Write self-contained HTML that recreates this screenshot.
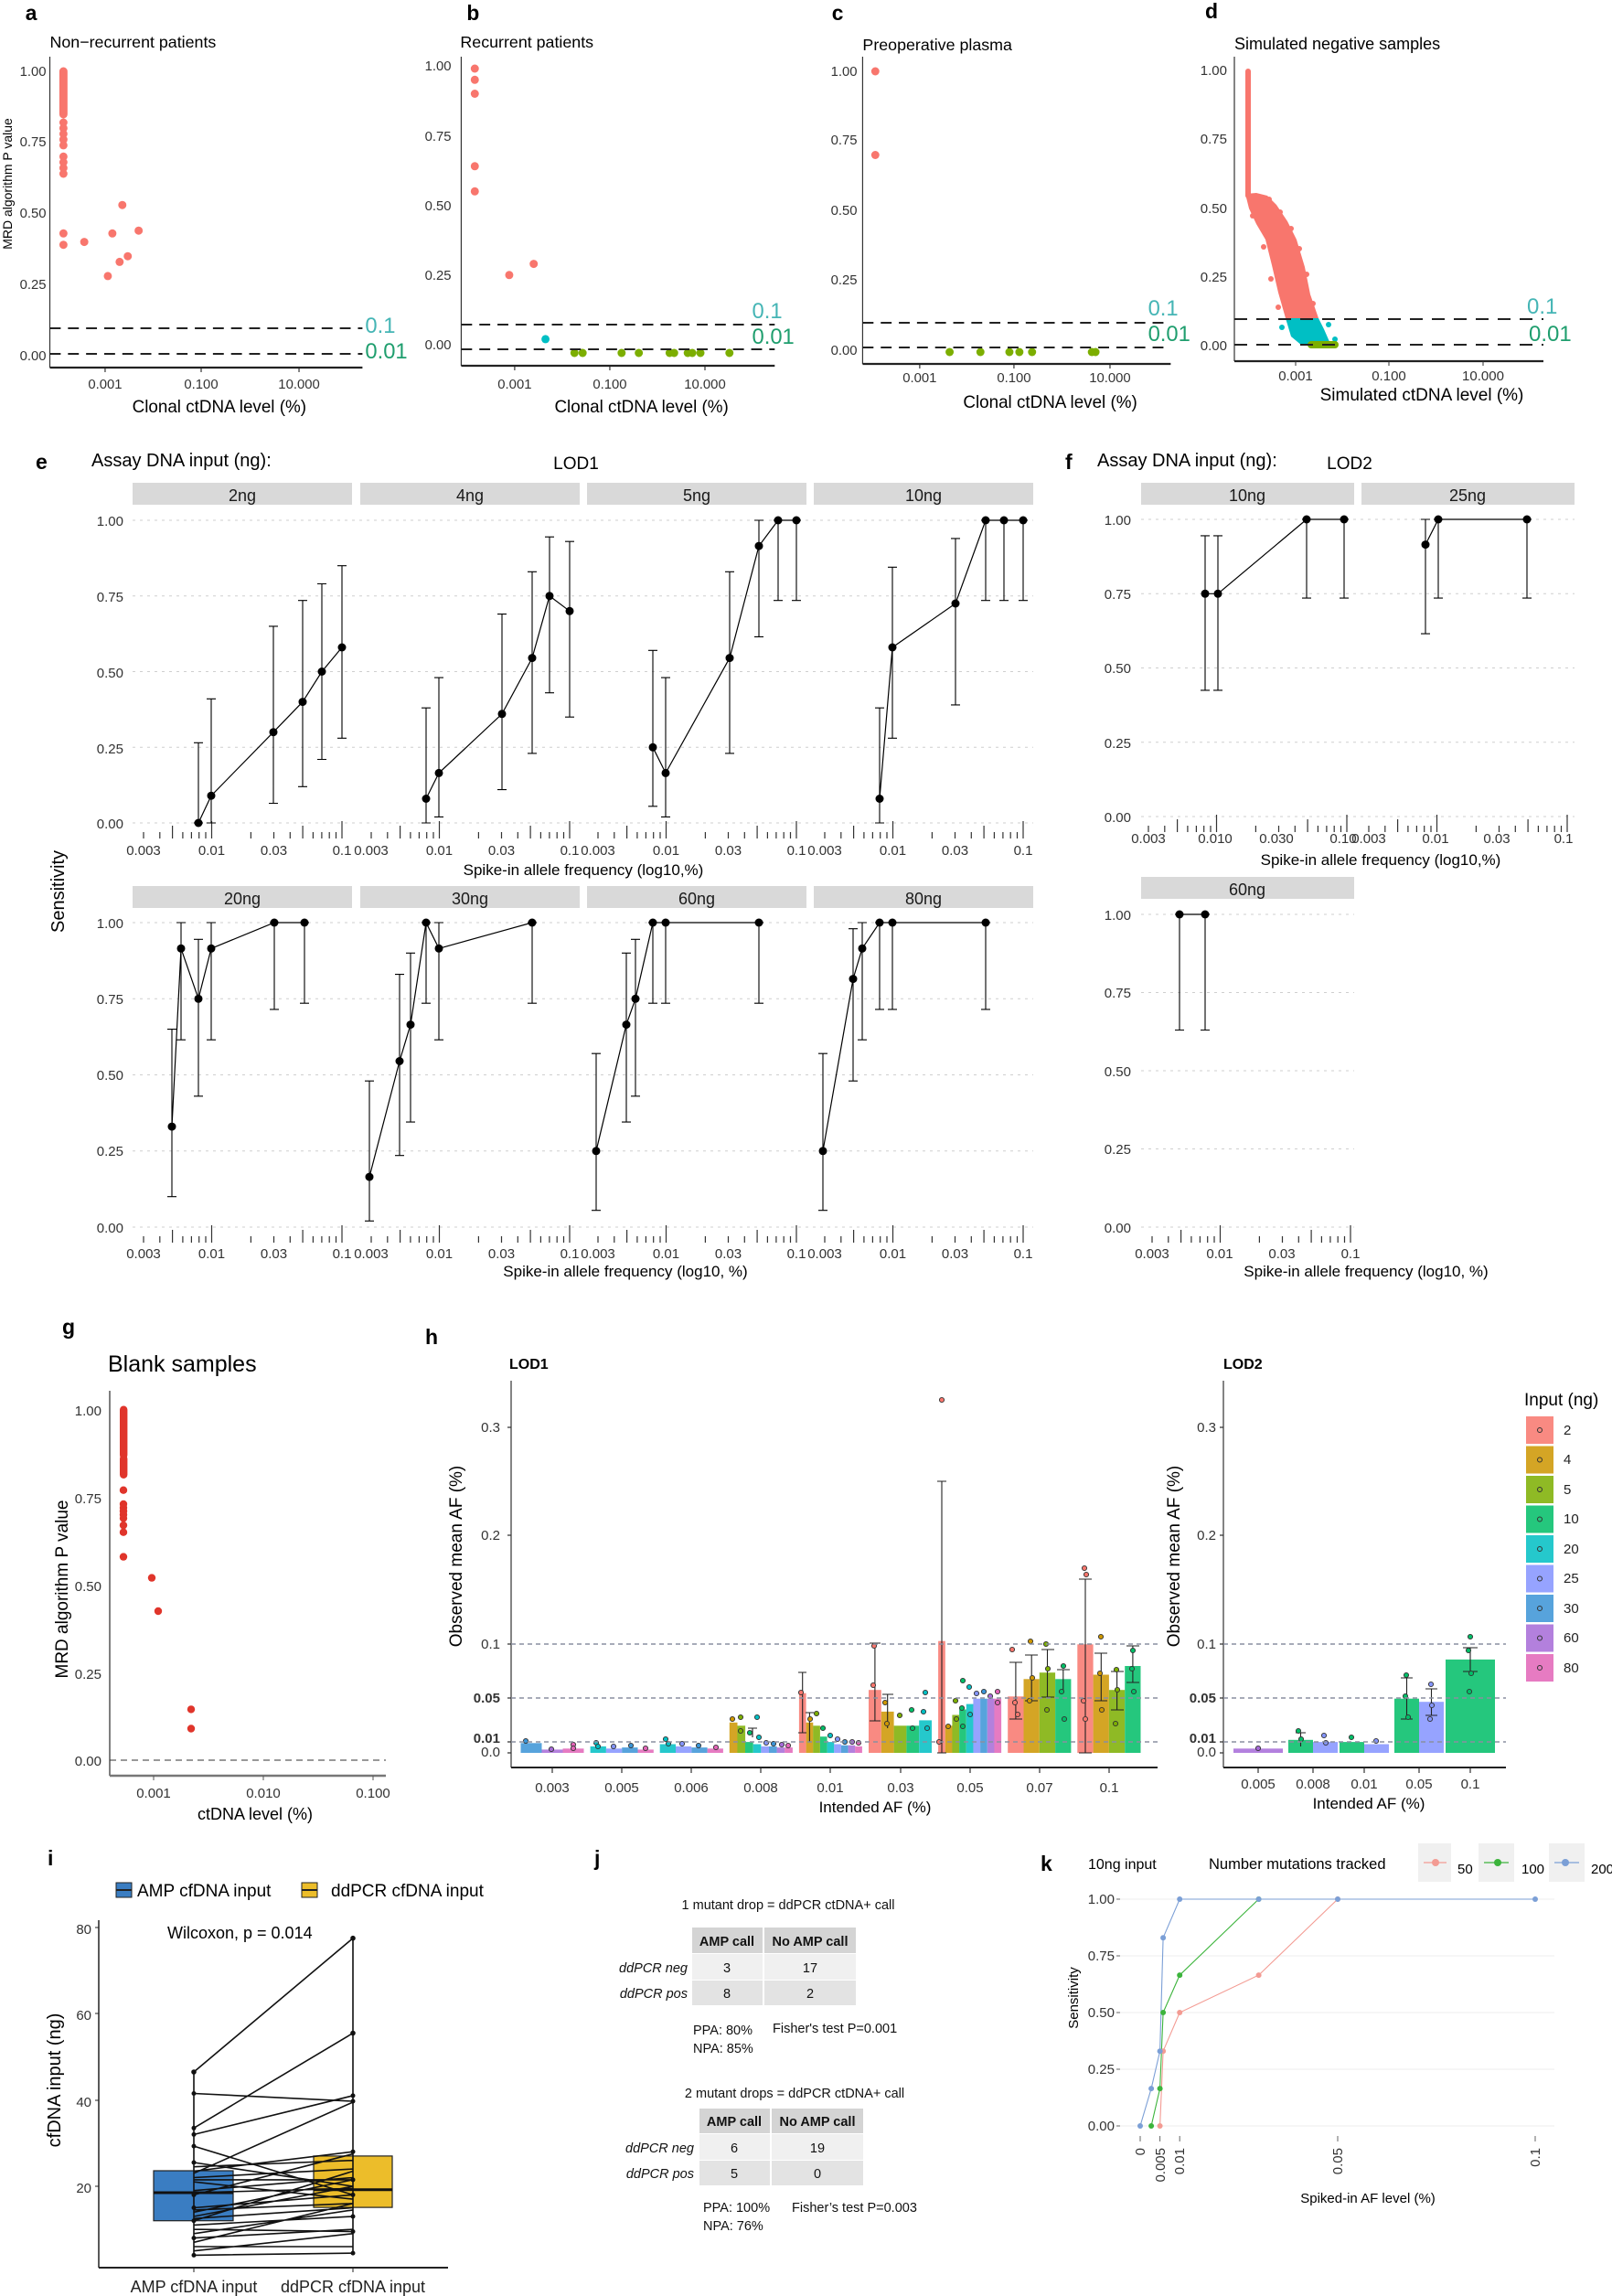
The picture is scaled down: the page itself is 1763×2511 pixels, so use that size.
<!DOCTYPE html>
<html><head><meta charset="utf-8">
<style>
html,body{margin:0;padding:0;background:#fff;}
svg{display:block;font-family:"Liberation Sans",Arial,sans-serif;}
.lt{font-weight:bold;font-size:23px;fill:#000}
.tk{font-size:15px;fill:#333}
.ttl{font-size:18px;fill:#000}
.strip{font-size:18px;fill:#1a1a1a}
.pk{fill:#f8766d}.gn{fill:#7cae00}.cy{fill:#00bfc4}.rd{fill:#e0352b}
.eb{stroke:#000;stroke-width:1.1;fill:none}
.ln{stroke:#000;stroke-width:1.2;fill:none}
.grid{stroke:#cfcfcf;stroke-width:1;stroke-dasharray:3,5}
.dsh{stroke:#222;stroke-width:2;stroke-dasharray:12,8}
.hd{stroke:#8a8fa0;stroke-width:1.5;stroke-dasharray:5,4}
.pt{stroke:#333;stroke-width:0.9}
</style></head>
<body>
<svg width="1763" height="2511" viewBox="0 0 1763 2511" xmlns="http://www.w3.org/2000/svg">
<defs>
<g id="tk" stroke="#333" stroke-width="1.2">
<line x1="12" y1="10" x2="12" y2="17"/><line x1="29.8" y1="10" x2="29.8" y2="17"/><line x1="43.6" y1="3" x2="43.6" y2="17"/><line x1="54.9" y1="10" x2="54.9" y2="17"/><line x1="64.4" y1="10" x2="64.4" y2="17"/><line x1="72.7" y1="10" x2="72.7" y2="17"/><line x1="80" y1="10" x2="80" y2="17"/><line x1="86.5" y1="-2" x2="86.5" y2="17"/><line x1="129.4" y1="10" x2="129.4" y2="17"/><line x1="154.5" y1="10" x2="154.5" y2="17"/><line x1="172.3" y1="10" x2="172.3" y2="17"/><line x1="186.1" y1="3" x2="186.1" y2="17"/><line x1="197.4" y1="10" x2="197.4" y2="17"/><line x1="206.9" y1="10" x2="206.9" y2="17"/><line x1="215.2" y1="10" x2="215.2" y2="17"/><line x1="222.5" y1="10" x2="222.5" y2="17"/><line x1="229" y1="-2" x2="229" y2="17"/>
</g>
</defs>
<rect width="1763" height="2511" fill="#fff"/>

<!-- ===== a,b,c ===== -->
<g transform="scale(0.991,1)">
<text class="lt" x="28" y="22">a</text>
<text class="lt" x="515" y="22">b</text>
<text class="lt" x="918" y="22">c</text>
<text class="ttl" x="55" y="52">Non−recurrent patients</text>
<text class="ttl" x="508" y="52">Recurrent patients</text>
<text class="ttl" x="952" y="55">Preoperative plasma</text>
<text font-size="14" fill="#000" transform="translate(13,201) rotate(-90)" text-anchor="middle">MRD algorithm P value</text>
<g class="tk" text-anchor="end" font-size="14">
<text x="51" y="83">1.00</text><text x="51" y="160">0.75</text><text x="51" y="238">0.50</text><text x="51" y="316">0.25</text><text x="51" y="394">0.00</text>
<text x="498" y="77">1.00</text><text x="498" y="154">0.75</text><text x="498" y="230">0.50</text><text x="498" y="306">0.25</text><text x="498" y="382">0.00</text>
<text x="946" y="83">1.00</text><text x="946" y="158">0.75</text><text x="946" y="235">0.50</text><text x="946" y="311">0.25</text><text x="946" y="388">0.00</text>
</g>
<g class="tk" text-anchor="middle" font-size="15">
<text x="116" y="425">0.001</text><text x="222" y="425">0.100</text><text x="330" y="425">10.000</text>
<text x="568" y="425">0.001</text><text x="673" y="425">0.100</text><text x="778" y="425">10.000</text>
<text x="1015" y="418">0.001</text><text x="1119" y="418">0.100</text><text x="1225" y="418">10.000</text>
</g>
<g font-size="19" text-anchor="middle" fill="#000">
<text x="242" y="451">Clonal ctDNA level (%)</text>
<text x="708" y="451">Clonal ctDNA level (%)</text>
<text x="1159" y="446">Clonal ctDNA level (%)</text>
</g>
<g font-size="24">
<text x="403" y="364" fill="#45b5b5">0.1</text><text x="403" y="392" fill="#1f9e6e">0.01</text>
<text x="830" y="348" fill="#45b5b5">0.1</text><text x="830" y="376" fill="#1f9e6e">0.01</text>
<text x="1267" y="345" fill="#45b5b5">0.1</text><text x="1267" y="373" fill="#1f9e6e">0.01</text>
</g>
<g stroke="#333" stroke-width="1.2">
<line x1="55" y1="62" x2="55" y2="402"/><line x1="509" y1="62" x2="509" y2="400"/><line x1="952" y1="62" x2="952" y2="398"/>
<line x1="116" y1="402" x2="116" y2="407"/><line x1="222" y1="402" x2="222" y2="407"/><line x1="330" y1="402" x2="330" y2="407"/>
<line x1="568" y1="400" x2="568" y2="405"/><line x1="673" y1="400" x2="673" y2="405"/><line x1="778" y1="400" x2="778" y2="405"/>
<line x1="1015" y1="398" x2="1015" y2="403"/><line x1="1119" y1="398" x2="1119" y2="403"/><line x1="1225" y1="398" x2="1225" y2="403"/>
</g>
<g stroke="#222" stroke-width="2.2">
<line x1="55" y1="402" x2="400" y2="402"/><line x1="509" y1="400" x2="855" y2="400"/><line x1="952" y1="398" x2="1292" y2="398"/>
</g>
<rect class="pk" x="65.5" y="73.5" width="9" height="56" rx="4.5"/>
<g class="pk">
<circle cx="70" cy="134" r="4.5"/><circle cx="70" cy="140.2" r="4.5"/><circle cx="70" cy="146.4" r="4.5"/><circle cx="70" cy="152.6" r="4.5"/><circle cx="70" cy="158.9" r="4.5"/><circle cx="70" cy="171.3" r="4.5"/><circle cx="70" cy="177.5" r="4.5"/><circle cx="70" cy="183.7" r="4.5"/><circle cx="70" cy="190" r="4.5"/>
<circle cx="70" cy="255.3" r="4.5"/><circle cx="70" cy="267.7" r="4.5"/><circle cx="93" cy="264.6" r="4.5"/><circle cx="119" cy="301.9" r="4.5"/><circle cx="124" cy="255.3" r="4.5"/><circle cx="132" cy="286.4" r="4.5"/><circle cx="135" cy="224.2" r="4.5"/><circle cx="141" cy="280.2" r="4.5"/><circle cx="153" cy="252.2" r="4.5"/>
<circle cx="524" cy="75" r="4.5"/><circle cx="524" cy="87.3" r="4.5"/><circle cx="524" cy="102.5" r="4.5"/><circle cx="524" cy="181.8" r="4.5"/><circle cx="524" cy="209.3" r="4.5"/><circle cx="562" cy="300.8" r="4.5"/><circle cx="589" cy="288.6" r="4.5"/>
<circle cx="966" cy="78" r="4.5"/><circle cx="966" cy="169.5" r="4.5"/>
</g>
<circle class="cy" cx="602" cy="370.9" r="4.5"/>
<g class="gn">
<circle cx="634" cy="386" r="4.5"/><circle cx="643" cy="386" r="4.5"/><circle cx="686" cy="386" r="4.5"/><circle cx="705" cy="386" r="4.5"/><circle cx="739" cy="386" r="4.5"/><circle cx="744" cy="386" r="4.5"/><circle cx="759" cy="386" r="4.5"/><circle cx="764" cy="386" r="4.5"/><circle cx="773" cy="386" r="4.5"/><circle cx="805" cy="386" r="4.5"/>
<circle cx="1048" cy="385" r="4.5"/><circle cx="1082" cy="385" r="4.5"/><circle cx="1114" cy="385" r="4.5"/><circle cx="1125" cy="385" r="4.5"/><circle cx="1139" cy="385" r="4.5"/><circle cx="1205" cy="385" r="4.5"/><circle cx="1209" cy="385" r="4.5"/>
</g>
<line class="dsh" x1="55" y1="359" x2="400" y2="359"/><line class="dsh" x1="55" y1="387" x2="400" y2="387"/>
<line class="dsh" x1="509" y1="355" x2="855" y2="355"/><line class="dsh" x1="509" y1="382" x2="855" y2="382"/>
<line class="dsh" x1="952" y1="353" x2="1292" y2="353"/><line class="dsh" x1="952" y1="380" x2="1292" y2="380"/>
</g>

<!-- ===== d ===== -->
<text class="lt" x="1318" y="20">d</text>
<text class="ttl" x="1350" y="54" font-size="19">Simulated negative samples</text>
<g class="tk" text-anchor="end" font-size="15">
<text x="1342" y="82">1.00</text><text x="1342" y="157">0.75</text><text x="1342" y="233">0.50</text><text x="1342" y="308">0.25</text><text x="1342" y="383">0.00</text>
</g>
<g class="tk" text-anchor="middle" font-size="15">
<text x="1417" y="416">0.001</text><text x="1519" y="416">0.100</text><text x="1622" y="416">10.000</text>
</g>
<text x="1555" y="438" font-size="19" text-anchor="middle">Simulated ctDNA level (%)</text>
<text x="1670" y="343" font-size="24" fill="#45b5b5">0.1</text>
<text x="1672" y="373" font-size="24" fill="#1f9e6e">0.01</text>
<line x1="1350" y1="62" x2="1350" y2="395" stroke="#333" stroke-width="1.2"/>
<line x1="1350" y1="395" x2="1688" y2="395" stroke="#222" stroke-width="2.2"/>
<g stroke="#333"><line x1="1417" y1="395" x2="1417" y2="400"/><line x1="1519" y1="395" x2="1519" y2="400"/><line x1="1622" y1="395" x2="1622" y2="400"/></g>
<rect class="pk" x="1362" y="75" width="6" height="142" rx="3"/>
<polygon class="pk" points="1362,212 1366,228 1374,245 1384,262 1391,290 1398,320 1406,348 1442,348 1433,322 1427,292 1418,262 1408,242 1396,224 1386,214 1374,211"/>
<g class="pk"><circle cx="1388" cy="218" r="3"/><circle cx="1400" cy="232" r="3"/><circle cx="1412" cy="250" r="3"/><circle cx="1421" cy="272" r="3"/><circle cx="1429" cy="300" r="3"/><circle cx="1382" cy="270" r="3"/><circle cx="1390" cy="305" r="3"/><circle cx="1436" cy="332" r="3"/><circle cx="1370" cy="236" r="3"/><circle cx="1398" cy="336" r="3"/></g>
<polygon class="cy" points="1406,348 1442,348 1448,360 1455,376 1424,378 1412,368"/>
<g class="cy"><circle cx="1453" cy="355" r="3"/><circle cx="1402" cy="358" r="3"/><circle cx="1460" cy="371" r="3"/></g>
<rect class="gn" x="1430" y="373" width="34" height="8" rx="4"/>
<line class="dsh" x1="1350" y1="349" x2="1688" y2="349" style="stroke-dasharray:14,10"/>
<line class="dsh" x1="1350" y1="377" x2="1688" y2="377" style="stroke-dasharray:14,10"/>

<!-- ===== e, f ===== -->
<text class="lt" x="39" y="513">e</text>
<text x="100" y="510" font-size="20">Assay DNA input (ng):</text>
<text x="630" y="513" font-size="19" text-anchor="middle">LOD1</text>
<text class="lt" x="1165" y="513">f</text>
<text x="1200" y="510" font-size="20">Assay DNA input (ng):</text>
<text x="1476" y="513" font-size="19" text-anchor="middle">LOD2</text>
<text font-size="20" transform="translate(70,975) rotate(-90)" text-anchor="middle">Sensitivity</text>

<g fill="#d9d9d9">
<rect x="145" y="528" width="240" height="24"/><rect x="394" y="528" width="240" height="24"/><rect x="642" y="528" width="240" height="24"/><rect x="890" y="528" width="240" height="24"/>
<rect x="145" y="969" width="240" height="24"/><rect x="394" y="969" width="240" height="24"/><rect x="642" y="969" width="240" height="24"/><rect x="890" y="969" width="240" height="24"/>
<rect x="1248" y="528" width="233" height="24"/><rect x="1489" y="528" width="233" height="24"/><rect x="1248" y="959" width="233" height="24"/>
</g>
<g class="strip" text-anchor="middle">
<text x="265" y="548">2ng</text><text x="514" y="548">4ng</text><text x="762" y="548">5ng</text><text x="1010" y="548">10ng</text>
<text x="265" y="989">20ng</text><text x="514" y="989">30ng</text><text x="762" y="989">60ng</text><text x="1010" y="989">80ng</text>
<text x="1364" y="548">10ng</text><text x="1605" y="548">25ng</text><text x="1364" y="979">60ng</text>
</g>
<g class="grid">
<path d="M145 900H1130M145 817.25H1130M145 734.5H1130M145 651.75H1130M145 569H1130"/>
<path d="M145 1342H1130M145 1258.75H1130M145 1175.5H1130M145 1092.25H1130M145 1009H1130"/>
<path d="M1248 893H1722M1248 811.75H1722M1248 730.5H1722M1248 649.25H1722M1248 568H1722"/>
<path d="M1248 1342H1481M1248 1256.5H1481M1248 1171H1481M1248 1085.5H1481M1248 1000H1481"/>
</g>
<use href="#tk" x="145" y="900"/><use href="#tk" x="394" y="900"/><use href="#tk" x="642" y="900"/><use href="#tk" x="890" y="900"/>
<use href="#tk" x="145" y="1342"/><use href="#tk" x="394" y="1342"/><use href="#tk" x="642" y="1342"/><use href="#tk" x="890" y="1342"/>
<use href="#tk" x="1244" y="893"/><use href="#tk" x="1485" y="893"/><use href="#tk" x="1248" y="1342"/>
<g class="tk" text-anchor="end" font-size="17">
<text x="135" y="575">1.00</text><text x="135" y="658">0.75</text><text x="135" y="741">0.50</text><text x="135" y="824">0.25</text><text x="135" y="906">0.00</text>
<text x="135" y="1015">1.00</text><text x="135" y="1098">0.75</text><text x="135" y="1181">0.50</text><text x="135" y="1264">0.25</text><text x="135" y="1348">0.00</text>
<text x="1237" y="574">1.00</text><text x="1237" y="655">0.75</text><text x="1237" y="736">0.50</text><text x="1237" y="818">0.25</text><text x="1237" y="899">0.00</text>
<text x="1237" y="1006">1.00</text><text x="1237" y="1091">0.75</text><text x="1237" y="1177">0.50</text><text x="1237" y="1262">0.25</text><text x="1237" y="1348">0.00</text>
</g>
<g class="tk" text-anchor="middle" font-size="15">
<text x="157" y="935">0.003</text><text x="231.5" y="935">0.01</text><text x="299.5" y="935">0.03</text><text x="374" y="935">0.1</text>
<text x="406" y="935">0.003</text><text x="480.5" y="935">0.01</text><text x="548.5" y="935">0.03</text><text x="623" y="935">0.1</text>
<text x="654" y="935">0.003</text><text x="728.5" y="935">0.01</text><text x="796.5" y="935">0.03</text><text x="871" y="935">0.1</text>
<text x="902" y="935">0.003</text><text x="976.5" y="935">0.01</text><text x="1044.5" y="935">0.03</text><text x="1119" y="935">0.1</text>
<text x="157" y="1376">0.003</text><text x="231.5" y="1376">0.01</text><text x="299.5" y="1376">0.03</text><text x="374" y="1376">0.1</text>
<text x="406" y="1376">0.003</text><text x="480.5" y="1376">0.01</text><text x="548.5" y="1376">0.03</text><text x="623" y="1376">0.1</text>
<text x="654" y="1376">0.003</text><text x="728.5" y="1376">0.01</text><text x="796.5" y="1376">0.03</text><text x="871" y="1376">0.1</text>
<text x="902" y="1376">0.003</text><text x="976.5" y="1376">0.01</text><text x="1044.5" y="1376">0.03</text><text x="1119" y="1376">0.1</text>
<text x="1256" y="922">0.003</text><text x="1329" y="922">0.010</text><text x="1396" y="922">0.030</text><text x="1469" y="922">0.10</text>
<text x="1497" y="922">0.003</text><text x="1570" y="922">0.01</text><text x="1637" y="922">0.03</text><text x="1710" y="922">0.1</text>
<text x="1260" y="1376">0.003</text><text x="1334" y="1376">0.01</text><text x="1402" y="1376">0.03</text><text x="1477" y="1376">0.1</text>
</g>
<g font-size="17" text-anchor="middle">
<text x="638" y="957">Spike-in allele frequency (log10,%)</text>
<text x="684" y="1396">Spike-in allele frequency (log10, %)</text>
<text x="1510" y="946">Spike-in allele frequency (log10,%)</text>
<text x="1494" y="1396">Spike-in allele frequency (log10, %)</text>
</g>
<!-- error bars -->
<path class="eb" d="
M217 900V812.3M212 900h10M212 812.3h10 M231 900V764.3M226 900h10M226 764.3h10 M299 878.5V684.9M294 878.5h10M294 684.9h10 M331 860.3V656.7M326 860.3h10M326 656.7h10 M352 830.5V638.5M347 830.5h10M347 638.5h10 M374 807.3V618.7M369 807.3h10M369 618.7h10
M466 900V774.2M461 900h10M461 774.2h10 M480 893.4V741.1M475 893.4h10M475 741.1h10 M549 863.6V671.6M544 863.6h10M544 671.6h10 M582 823.9V625.3M577 823.9h10M577 625.3h10 M601 757.7V587.2M596 757.7h10M596 587.2h10 M623 784.2V592.2M618 784.2h10M618 592.2h10
M714 881.8V711.3M709 881.8h10M709 711.3h10 M728 893.4V741.1M723 893.4h10M723 741.1h10 M798 823.9V625.3M793 823.9h10M793 625.3h10 M830 696.4V569M825 696.4h10M825 569h10 M851 656.7V569M846 656.7h10M846 569h10 M871 656.7V569M866 656.7h10M866 569h10
M962 900V774.2M957 900h10M957 774.2h10 M976 807.3V620.3M971 807.3h10M971 620.3h10 M1045 770.9V588.9M1040 770.9h10M1040 588.9h10 M1078 656.7V569M1073 656.7h10M1073 569h10 M1098 656.7V569M1093 656.7h10M1093 569h10 M1119 656.7V569M1114 656.7h10M1114 569h10
M188 1308.7V1125.6M183 1308.7h10M183 1125.6h10 M198 1137.2V1009M193 1137.2h10M193 1009h10 M217 1198.8V1027.3M212 1198.8h10M212 1027.3h10 M231 1137.2V1009M226 1137.2h10M226 1009h10 M300 1103.9V1009M295 1103.9h10M295 1009h10 M333 1097.2V1009M328 1097.2h10M328 1009h10
M404 1335.3V1182.2M399 1335.3h10M399 1182.2h10 M437 1263.7V1065.6M432 1263.7h10M432 1065.6h10 M449 1227.1V1042.3M444 1227.1h10M444 1042.3h10 M466 1097.2V1009M461 1097.2h10M461 1009h10 M480 1137.2V1009M475 1137.2h10M475 1009h10 M582 1097.2V1009M577 1097.2h10M577 1009h10
M652 1323.7V1152.2M647 1323.7h10M647 1152.2h10 M685 1227.1V1042.3M680 1227.1h10M680 1042.3h10 M695 1198.8V1027.3M690 1198.8h10M690 1027.3h10 M714 1097.2V1009M709 1097.2h10M709 1009h10 M728 1097.2V1009M723 1097.2h10M723 1009h10 M830 1097.2V1009M825 1097.2h10M825 1009h10
M900 1323.7V1152.2M895 1323.7h10M895 1152.2h10 M933 1182.2V1015.7M928 1182.2h10M928 1015.7h10 M943 1137.2V1009M938 1137.2h10M938 1009h10 M962 1103.9V1009M957 1103.9h10M957 1009h10 M976 1103.9V1009M971 1103.9h10M971 1009h10 M1078 1103.9V1009M1073 1103.9h10M1073 1009h10
M1318 754.9V585.9M1313 754.9h10M1313 585.9h10 M1332 754.9V585.9M1327 754.9h10M1327 585.9h10 M1429 654.1V568M1424 654.1h10M1424 568h10 M1470 654.1V568M1465 654.1h10M1465 568h10
M1559 693.1V568M1554 693.1h10M1554 568h10 M1573 654.1V568M1568 654.1h10M1568 568h10 M1670 654.1V568M1665 654.1h10M1665 568h10
M1290 1126.5V1000M1285 1126.5h10M1285 1000h10 M1318 1126.5V1000M1313 1126.5h10M1313 1000h10"/>
<g class="ln">
<polyline points="217,900 231,870.2 299,800.7 331,767.6 352,734.5 374,708"/>
<polyline points="466,873.5 480,845.4 549,780.8 582,719.6 601,651.8 623,668.3"/>
<polyline points="714,817.3 728,845.4 798,719.6 830,597.1 851,569 871,569"/>
<polyline points="962,873.5 976,708 1045,660 1078,569 1098,569 1119,569"/>
<polyline points="188,1232.1 198,1037.3 217,1092.3 231,1037.3 300,1009 333,1009"/>
<polyline points="404,1287.1 437,1160.5 449,1120.6 466,1009 480,1037.3 582,1009"/>
<polyline points="652,1258.8 685,1120.6 695,1092.3 714,1009 728,1009 830,1009"/>
<polyline points="900,1258.8 933,1070.6 943,1037.3 962,1009 976,1009 1078,1009"/>
<polyline points="1318,649.3 1332,649.3 1429,568 1470,568"/>
<polyline points="1559,595.6 1573,568 1670,568"/>
<polyline points="1290,1000 1318,1000"/>
</g>
<g fill="#000">
<circle cx="217" cy="900" r="4.5"/><circle cx="231" cy="870.2" r="4.5"/><circle cx="299" cy="800.7" r="4.5"/><circle cx="331" cy="767.6" r="4.5"/><circle cx="352" cy="734.5" r="4.5"/><circle cx="374" cy="708" r="4.5"/>
<circle cx="466" cy="873.5" r="4.5"/><circle cx="480" cy="845.4" r="4.5"/><circle cx="549" cy="780.8" r="4.5"/><circle cx="582" cy="719.6" r="4.5"/><circle cx="601" cy="651.8" r="4.5"/><circle cx="623" cy="668.3" r="4.5"/>
<circle cx="714" cy="817.3" r="4.5"/><circle cx="728" cy="845.4" r="4.5"/><circle cx="798" cy="719.6" r="4.5"/><circle cx="830" cy="597.1" r="4.5"/><circle cx="851" cy="569" r="4.5"/><circle cx="871" cy="569" r="4.5"/>
<circle cx="962" cy="873.5" r="4.5"/><circle cx="976" cy="708" r="4.5"/><circle cx="1045" cy="660" r="4.5"/><circle cx="1078" cy="569" r="4.5"/><circle cx="1098" cy="569" r="4.5"/><circle cx="1119" cy="569" r="4.5"/>
<circle cx="188" cy="1232.1" r="4.5"/><circle cx="198" cy="1037.3" r="4.5"/><circle cx="217" cy="1092.3" r="4.5"/><circle cx="231" cy="1037.3" r="4.5"/><circle cx="300" cy="1009" r="4.5"/><circle cx="333" cy="1009" r="4.5"/>
<circle cx="404" cy="1287.1" r="4.5"/><circle cx="437" cy="1160.5" r="4.5"/><circle cx="449" cy="1120.6" r="4.5"/><circle cx="466" cy="1009" r="4.5"/><circle cx="480" cy="1037.3" r="4.5"/><circle cx="582" cy="1009" r="4.5"/>
<circle cx="652" cy="1258.8" r="4.5"/><circle cx="685" cy="1120.6" r="4.5"/><circle cx="695" cy="1092.3" r="4.5"/><circle cx="714" cy="1009" r="4.5"/><circle cx="728" cy="1009" r="4.5"/><circle cx="830" cy="1009" r="4.5"/>
<circle cx="900" cy="1258.8" r="4.5"/><circle cx="933" cy="1070.6" r="4.5"/><circle cx="943" cy="1037.3" r="4.5"/><circle cx="962" cy="1009" r="4.5"/><circle cx="976" cy="1009" r="4.5"/><circle cx="1078" cy="1009" r="4.5"/>
<circle cx="1318" cy="649.3" r="4.5"/><circle cx="1332" cy="649.3" r="4.5"/><circle cx="1429" cy="568" r="4.5"/><circle cx="1470" cy="568" r="4.5"/>
<circle cx="1559" cy="595.6" r="4.5"/><circle cx="1573" cy="568" r="4.5"/><circle cx="1670" cy="568" r="4.5"/>
<circle cx="1290" cy="1000" r="4.5"/><circle cx="1318" cy="1000" r="4.5"/>
</g>

<!-- ===== g ===== -->
<text class="lt" x="68" y="1459">g</text>
<text x="118" y="1500" font-size="25">Blank samples</text>
<text font-size="19" transform="translate(74,1738) rotate(-90)" text-anchor="middle">MRD algorithm P value</text>
<g class="tk" text-anchor="end" font-size="16">
<text x="111" y="1548">1.00</text><text x="111" y="1644">0.75</text><text x="111" y="1740">0.50</text><text x="111" y="1836">0.25</text><text x="111" y="1931">0.00</text>
</g>
<g class="tk" text-anchor="middle" font-size="16">
<text x="168" y="1966">0.001</text><text x="288" y="1966">0.010</text><text x="408" y="1966">0.100</text>
</g>
<text x="279" y="1990" font-size="18" text-anchor="middle">ctDNA level (%)</text>
<line x1="120" y1="1521" x2="120" y2="1942" stroke="#555" stroke-width="1.5"/>
<line x1="120" y1="1942" x2="422" y2="1942" stroke="#777" stroke-width="2.5"/>
<g stroke="#555"><line x1="168" y1="1942" x2="168" y2="1947"/><line x1="288" y1="1942" x2="288" y2="1947"/><line x1="408" y1="1942" x2="408" y2="1947"/></g>
<line x1="120" y1="1925" x2="422" y2="1925" stroke="#333" stroke-dasharray="7,5"/>
<rect class="rd" x="131" y="1537.5" width="8.4" height="58" rx="4.2"/>
<rect class="rd" x="131" y="1591" width="8.4" height="26" rx="4.2"/>
<g class="rd">
<circle cx="135" cy="1629.7" r="4.2"/><circle cx="135" cy="1645" r="4.2"/><circle cx="135" cy="1648.9" r="4.2"/><circle cx="135" cy="1652.7" r="4.2"/><circle cx="135" cy="1656.6" r="4.2"/><circle cx="135" cy="1660.4" r="4.2"/><circle cx="135" cy="1668.1" r="4.2"/><circle cx="135" cy="1675.7" r="4.2"/><circle cx="135" cy="1702.6" r="4.2"/>
<circle cx="166" cy="1725.6" r="4.2"/><circle cx="173" cy="1762" r="4.2"/><circle cx="209" cy="1869.4" r="4.2"/><circle cx="209" cy="1890.5" r="4.2"/>
</g>

<!-- ===== h ===== -->
<text class="lt" x="465" y="1470">h</text>
<text x="557" y="1497" font-size="16" font-weight="bold">LOD1</text>
<text x="1338" y="1497" font-size="16" font-weight="bold">LOD2</text>
<text font-size="19" transform="translate(505,1702) rotate(-90)" text-anchor="middle">Observed mean AF (%)</text>
<text font-size="19" transform="translate(1290,1702) rotate(-90)" text-anchor="middle">Observed mean AF (%)</text>
<g class="tk" text-anchor="end" font-size="15">
<text x="547" y="1566">0.3</text><text x="547" y="1684">0.2</text><text x="547" y="1803">0.1</text>
<text x="547" y="1862" font-weight="bold">0.05</text><text x="547" y="1906" font-weight="bold">0.01</text><text x="547" y="1921">0.0</text>
<text x="1330" y="1566">0.3</text><text x="1330" y="1684">0.2</text><text x="1330" y="1803">0.1</text>
<text x="1330" y="1862" font-weight="bold">0.05</text><text x="1330" y="1906" font-weight="bold">0.01</text><text x="1330" y="1921">0.0</text>
</g>
<g class="tk" text-anchor="middle" font-size="15">
<text x="604" y="1960">0.003</text><text x="680" y="1960">0.005</text><text x="756" y="1960">0.006</text><text x="832" y="1960">0.008</text><text x="908" y="1960">0.01</text><text x="985" y="1960">0.03</text><text x="1061" y="1960">0.05</text><text x="1137" y="1960">0.07</text><text x="1213" y="1960">0.1</text>
<text x="1376" y="1956">0.005</text><text x="1436" y="1956">0.008</text><text x="1492" y="1956">0.01</text><text x="1552" y="1956">0.05</text><text x="1608" y="1956">0.1</text>
</g>
<text x="957" y="1982" font-size="17" text-anchor="middle">Intended AF (%)</text>
<text x="1497" y="1978" font-size="17" text-anchor="middle">Intended AF (%)</text>
<g stroke="#333" stroke-width="1.2">
<line x1="559" y1="1510" x2="559" y2="1933"/><line x1="1338" y1="1510" x2="1338" y2="1933"/>
<path d="M555 1561H559M555 1679H559M555 1798H559M555 1857H559M555 1905H559M555 1917H559M1334 1561H1338M1334 1679H1338M1334 1798H1338M1334 1857H1338M1334 1905H1338M1334 1917H1338"/>
<path d="M604 1933v6M680 1933v6M756 1933v6M832 1933v6M908 1933v6M985 1933v6M1061 1933v6M1137 1933v6M1213 1933v6M1376 1933v6M1436 1933v6M1492 1933v6M1552 1933v6M1608 1933v6"/>
</g>
<g stroke="#222" stroke-width="2"><line x1="559" y1="1933" x2="1266" y2="1933"/><line x1="1338" y1="1933" x2="1647" y2="1933"/></g>
<g opacity="0.85">
<rect x="569.5" y="1906.3" width="23" height="10.7" fill="#3a94d6"/><rect x="592.5" y="1913.4" width="23" height="3.6" fill="#a66bd8"/><rect x="615.5" y="1912.3" width="23" height="4.7" fill="#e264b8"/>
<rect x="645.6" y="1909.9" width="17.3" height="7.1" fill="#00bfc4"/><rect x="662.9" y="1912.3" width="17.3" height="4.7" fill="#8494ff"/><rect x="680.2" y="1911.1" width="17.3" height="5.9" fill="#3a94d6"/><rect x="697.5" y="1913.4" width="17.3" height="3.6" fill="#e264b8"/>
<rect x="721.7" y="1907.5" width="17.3" height="9.5" fill="#00bfc4"/><rect x="739" y="1909.9" width="17.3" height="7.1" fill="#8494ff"/><rect x="756.3" y="1911.1" width="17.3" height="5.9" fill="#3a94d6"/><rect x="773.6" y="1912.3" width="17.3" height="4.7" fill="#e264b8"/>
<rect x="797.8" y="1883.8" width="8.7" height="33.2" fill="#cd9600"/><rect x="806.4" y="1887.3" width="8.7" height="29.7" fill="#7cae00"/><rect x="815" y="1905.1" width="8.7" height="11.9" fill="#00be67"/><rect x="823.7" y="1907.5" width="8.7" height="9.5" fill="#00bfc4"/><rect x="832.3" y="1909.9" width="8.7" height="7.1" fill="#8494ff"/><rect x="841" y="1909.9" width="8.7" height="7.1" fill="#3a94d6"/><rect x="849.6" y="1911.1" width="8.7" height="5.9" fill="#a66bd8"/><rect x="858.2" y="1911.1" width="8.7" height="5.9" fill="#e264b8"/>
<rect x="873.9" y="1851.7" width="7.7" height="65.3" fill="#f8766d"/><rect x="881.6" y="1883.8" width="7.7" height="33.2" fill="#cd9600"/><rect x="889.2" y="1887.3" width="7.7" height="29.7" fill="#7cae00"/><rect x="896.9" y="1899.2" width="7.7" height="17.8" fill="#00be67"/><rect x="904.6" y="1905.1" width="7.7" height="11.9" fill="#00bfc4"/><rect x="912.2" y="1907.5" width="7.7" height="9.5" fill="#8494ff"/><rect x="919.9" y="1908.7" width="7.7" height="8.3" fill="#3a94d6"/><rect x="927.6" y="1908.7" width="7.7" height="8.3" fill="#a66bd8"/><rect x="935.2" y="1909.9" width="7.7" height="7.1" fill="#e264b8"/>
<rect x="950" y="1848.2" width="13.8" height="68.8" fill="#f8766d"/><rect x="963.8" y="1871.9" width="13.8" height="45.1" fill="#cd9600"/><rect x="977.6" y="1887.3" width="13.8" height="29.7" fill="#7cae00"/><rect x="991.4" y="1887.3" width="13.8" height="29.7" fill="#00be67"/><rect x="1005.2" y="1881.4" width="13.8" height="35.6" fill="#00bfc4"/>
<rect x="1026.1" y="1794.7" width="7.7" height="122.3" fill="#f8766d"/><rect x="1033.8" y="1887.3" width="7.7" height="29.7" fill="#cd9600"/><rect x="1041.4" y="1875.5" width="7.7" height="41.5" fill="#7cae00"/><rect x="1049.1" y="1869.5" width="7.7" height="47.5" fill="#00be67"/><rect x="1056.8" y="1863.6" width="7.7" height="53.4" fill="#00bfc4"/><rect x="1064.4" y="1857.7" width="7.7" height="59.3" fill="#8494ff"/><rect x="1072.1" y="1857.7" width="7.7" height="59.3" fill="#3a94d6"/><rect x="1079.8" y="1857.7" width="7.7" height="59.3" fill="#a66bd8"/><rect x="1087.4" y="1857.7" width="7.7" height="59.3" fill="#e264b8"/>
<rect x="1102.2" y="1855.3" width="17.3" height="61.7" fill="#f8766d"/><rect x="1119.5" y="1836.3" width="17.3" height="80.7" fill="#cd9600"/><rect x="1136.8" y="1829.2" width="17.3" height="87.8" fill="#7cae00"/><rect x="1154.1" y="1836.3" width="17.3" height="80.7" fill="#00be67"/>
<rect x="1178.3" y="1798.3" width="17.3" height="118.7" fill="#f8766d"/><rect x="1195.6" y="1831.5" width="17.3" height="85.5" fill="#cd9600"/><rect x="1212.9" y="1848.2" width="17.3" height="68.8" fill="#7cae00"/><rect x="1230.2" y="1822" width="17.3" height="95" fill="#00be67"/>
<rect x="1349" y="1912.3" width="54" height="4.7" fill="#a66bd8"/>
<rect x="1409" y="1902.8" width="27" height="14.2" fill="#00be67"/><rect x="1436" y="1905.1" width="27" height="11.9" fill="#8494ff"/>
<rect x="1465" y="1905.1" width="27" height="11.9" fill="#00be67"/><rect x="1492" y="1907.5" width="27" height="9.5" fill="#8494ff"/>
<rect x="1525" y="1857.7" width="27" height="59.3" fill="#00be67"/><rect x="1552" y="1861.2" width="27" height="55.8" fill="#8494ff"/>
<rect x="1581" y="1814.9" width="54" height="102.1" fill="#00be67"/>
</g>
<path stroke="#222" stroke-width="1.1" fill="none" d="
M877.7 1895V1829M873 1829h9M873 1895h9 M885.4 1905V1873M881 1873h9
M956.9 1882V1797M951 1797h12M951 1882h12 M970.7 1890V1853M965 1853h12
M1030 1917V1620M1025 1620h10M1025 1917h10
M1110.9 1880V1818M1104 1818h14M1104 1880h14 M1128.2 1860V1810M1121 1810h14M1121 1860h14 M1145.5 1856V1804M1139 1804h14M1139 1856h14 M1162.8 1850V1826M1156 1826h14
M1187 1917V1727M1180 1727h14M1180 1917h14 M1204.3 1860V1808M1197 1808h14M1197 1860h14 M1221.6 1870V1828M1215 1828h14M1215 1870h14 M1238.9 1840V1800M1232 1800h14M1232 1840h14
M1538.5 1880V1835M1532 1835h13M1532 1880h13 M1565.5 1876V1847M1559 1847h13M1559 1876h13 M1608 1828V1802M1600 1802h16M1600 1828h16
M1422.5 1910V1895M1417 1895h11 M823 1900V1890M818 1890h10"/>
<g class="pt" stroke="#333">
<circle cx="575" cy="1904" r="2.6" fill="#3a94d6"/><circle cx="603" cy="1913" r="2.6" fill="#a66bd8"/><circle cx="627" cy="1908" r="2.6" fill="#e264b8"/><circle cx="627" cy="1912" r="2.6" fill="#e264b8"/>
<circle cx="652" cy="1906" r="2.6" fill="#00bfc4"/><circle cx="654" cy="1910" r="2.6" fill="#00bfc4"/><circle cx="671" cy="1910" r="2.6" fill="#8494ff"/><circle cx="690" cy="1909" r="2.6" fill="#3a94d6"/><circle cx="706" cy="1912" r="2.6" fill="#e264b8"/>
<circle cx="728" cy="1902" r="2.6" fill="#00bfc4"/><circle cx="731" cy="1907" r="2.6" fill="#00bfc4"/><circle cx="746" cy="1907" r="2.6" fill="#8494ff"/><circle cx="764" cy="1909" r="2.6" fill="#3a94d6"/><circle cx="783" cy="1911" r="2.6" fill="#e264b8"/>
<circle cx="801" cy="1880" r="2.6" fill="#cd9600"/><circle cx="810" cy="1878" r="2.6" fill="#7cae00"/><circle cx="810" cy="1893" r="2.6" fill="#7cae00"/><circle cx="820" cy="1895" r="2.6" fill="#00be67"/><circle cx="828" cy="1878" r="2.6" fill="#00bfc4"/><circle cx="830" cy="1900" r="2.6" fill="#00bfc4"/><circle cx="838" cy="1906" r="2.6" fill="#8494ff"/><circle cx="846" cy="1907" r="2.6" fill="#3a94d6"/><circle cx="855" cy="1908" r="2.6" fill="#a66bd8"/><circle cx="862" cy="1909" r="2.6" fill="#e264b8"/>
<circle cx="876" cy="1851" r="2.6" fill="#f8766d"/><circle cx="886" cy="1880" r="2.6" fill="#cd9600"/><circle cx="893" cy="1874" r="2.6" fill="#7cae00"/><circle cx="900" cy="1890" r="2.6" fill="#00be67"/><circle cx="908" cy="1898" r="2.6" fill="#00bfc4"/><circle cx="916" cy="1902" r="2.6" fill="#8494ff"/><circle cx="924" cy="1905" r="2.6" fill="#3a94d6"/><circle cx="932" cy="1905" r="2.6" fill="#a66bd8"/><circle cx="939" cy="1906" r="2.6" fill="#e264b8"/>
<circle cx="956" cy="1800" r="2.6" fill="#f8766d"/><circle cx="955" cy="1843" r="2.6" fill="#f8766d"/><circle cx="968" cy="1862" r="2.6" fill="#cd9600"/><circle cx="970" cy="1885" r="2.6" fill="#cd9600"/><circle cx="984" cy="1876" r="2.6" fill="#7cae00"/><circle cx="997" cy="1870" r="2.6" fill="#00be67"/><circle cx="998" cy="1890" r="2.6" fill="#00be67"/><circle cx="1012" cy="1851" r="2.6" fill="#00bfc4"/><circle cx="1010" cy="1872" r="2.6" fill="#00bfc4"/><circle cx="1014" cy="1890" r="2.6" fill="#00bfc4"/>
<circle cx="1030" cy="1531" r="2.6" fill="#f8766d"/><circle cx="1027" cy="1905" r="2.6" fill="#f8766d"/><circle cx="1037" cy="1888" r="2.6" fill="#cd9600"/><circle cx="1045" cy="1860" r="2.6" fill="#7cae00"/><circle cx="1046" cy="1880" r="2.6" fill="#7cae00"/><circle cx="1053" cy="1838" r="2.6" fill="#00be67"/><circle cx="1052" cy="1868" r="2.6" fill="#00be67"/><circle cx="1053" cy="1888" r="2.6" fill="#00be67"/><circle cx="1060" cy="1845" r="2.6" fill="#00bfc4"/><circle cx="1061" cy="1875" r="2.6" fill="#00bfc4"/><circle cx="1068" cy="1852" r="2.6" fill="#8494ff"/><circle cx="1076" cy="1850" r="2.6" fill="#3a94d6"/><circle cx="1083" cy="1855" r="2.6" fill="#a66bd8"/><circle cx="1091" cy="1850" r="2.6" fill="#e264b8"/><circle cx="1091" cy="1862" r="2.6" fill="#e264b8"/>
<circle cx="1107" cy="1804" r="2.6" fill="#f8766d"/><circle cx="1110" cy="1862" r="2.6" fill="#f8766d"/><circle cx="1113" cy="1875" r="2.6" fill="#f8766d"/><circle cx="1127" cy="1795" r="2.6" fill="#cd9600"/><circle cx="1129" cy="1835" r="2.6" fill="#cd9600"/><circle cx="1126" cy="1860" r="2.6" fill="#cd9600"/><circle cx="1144" cy="1798" r="2.6" fill="#7cae00"/><circle cx="1146" cy="1825" r="2.6" fill="#7cae00"/><circle cx="1145" cy="1870" r="2.6" fill="#7cae00"/><circle cx="1163" cy="1822" r="2.6" fill="#00be67"/><circle cx="1161" cy="1850" r="2.6" fill="#00be67"/><circle cx="1164" cy="1880" r="2.6" fill="#00be67"/>
<circle cx="1186" cy="1715" r="2.6" fill="#f8766d"/><circle cx="1188" cy="1722" r="2.6" fill="#f8766d"/><circle cx="1185" cy="1860" r="2.6" fill="#f8766d"/><circle cx="1187" cy="1880" r="2.6" fill="#f8766d"/><circle cx="1204" cy="1790" r="2.6" fill="#cd9600"/><circle cx="1203" cy="1830" r="2.6" fill="#cd9600"/><circle cx="1205" cy="1870" r="2.6" fill="#cd9600"/><circle cx="1221" cy="1826" r="2.6" fill="#7cae00"/><circle cx="1222" cy="1848" r="2.6" fill="#7cae00"/><circle cx="1220" cy="1885" r="2.6" fill="#7cae00"/><circle cx="1239" cy="1805" r="2.6" fill="#00be67"/><circle cx="1238" cy="1825" r="2.6" fill="#00be67"/><circle cx="1240" cy="1850" r="2.6" fill="#00be67"/>
<circle cx="1376" cy="1912" r="2.6" fill="#a66bd8"/>
<circle cx="1420" cy="1893" r="2.6" fill="#00be67"/><circle cx="1423" cy="1902" r="2.6" fill="#00be67"/><circle cx="1448" cy="1898" r="2.6" fill="#8494ff"/><circle cx="1450" cy="1906" r="2.6" fill="#8494ff"/>
<circle cx="1478" cy="1900" r="2.6" fill="#00be67"/><circle cx="1505" cy="1904" r="2.6" fill="#8494ff"/>
<circle cx="1538" cy="1832" r="2.6" fill="#00be67"/><circle cx="1537" cy="1855" r="2.6" fill="#00be67"/><circle cx="1540" cy="1878" r="2.6" fill="#00be67"/><circle cx="1565" cy="1842" r="2.6" fill="#8494ff"/><circle cx="1566" cy="1865" r="2.6" fill="#8494ff"/><circle cx="1564" cy="1880" r="2.6" fill="#8494ff"/>
<circle cx="1608" cy="1790" r="2.6" fill="#00be67"/><circle cx="1606" cy="1805" r="2.6" fill="#00be67"/><circle cx="1609" cy="1830" r="2.6" fill="#00be67"/><circle cx="1607" cy="1850" r="2.6" fill="#00be67"/>
</g>
<g class="hd">
<path d="M559 1798H1266M559 1857H1266M559 1905H1266M1338 1798H1647M1338 1857H1647M1338 1905H1647"/>
</g>
<text x="1667" y="1537" font-size="19">Input (ng)</text>
<g opacity="0.85">
<rect x="1669" y="1549" width="30" height="30" fill="#f8766d"/><rect x="1669" y="1581.5" width="30" height="30" fill="#cd9600"/><rect x="1669" y="1614" width="30" height="30" fill="#7cae00"/><rect x="1669" y="1646.5" width="30" height="30" fill="#00be67"/><rect x="1669" y="1679" width="30" height="30" fill="#00bfc4"/><rect x="1669" y="1711.5" width="30" height="30" fill="#8494ff"/><rect x="1669" y="1744" width="30" height="30" fill="#3a94d6"/><rect x="1669" y="1776.5" width="30" height="30" fill="#a66bd8"/><rect x="1669" y="1809" width="30" height="30" fill="#e264b8"/>
</g>
<g fill="none" stroke="#333">
<circle cx="1684" cy="1564" r="2.5"/><circle cx="1684" cy="1596.5" r="2.5"/><circle cx="1684" cy="1629" r="2.5"/><circle cx="1684" cy="1661.5" r="2.5"/><circle cx="1684" cy="1694" r="2.5"/><circle cx="1684" cy="1726.5" r="2.5"/><circle cx="1684" cy="1759" r="2.5"/><circle cx="1684" cy="1791.5" r="2.5"/><circle cx="1684" cy="1824" r="2.5"/>
</g>
<g font-size="15" fill="#222">
<text x="1710" y="1569">2</text><text x="1710" y="1601">4</text><text x="1710" y="1634">5</text><text x="1710" y="1666">10</text><text x="1710" y="1699">20</text><text x="1710" y="1731">25</text><text x="1710" y="1764">30</text><text x="1710" y="1796">60</text><text x="1710" y="1829">80</text>
</g>

<!-- ===== i ===== -->
<text class="lt" x="52" y="2040">i</text>
<rect x="127" y="2059" width="17" height="16" fill="#3a7dc2" stroke="#222"/><line x1="127" y1="2067" x2="144" y2="2067" stroke="#222" stroke-width="2"/>
<text x="150" y="2074" font-size="19">AMP cfDNA input</text>
<rect x="330" y="2059" width="17" height="16" fill="#ecbd2a" stroke="#222"/><line x1="330" y1="2067" x2="347" y2="2067" stroke="#222" stroke-width="2"/>
<text x="362" y="2074" font-size="19">ddPCR cfDNA input</text>
<text x="183" y="2120" font-size="18">Wilcoxon, p = 0.014</text>
<g class="tk" text-anchor="end" font-size="19" fill="#222">
<text x="100" y="2115">80</text><text x="100" y="2209">60</text><text x="100" y="2304">40</text><text x="100" y="2398">20</text>
</g>
<text font-size="20" transform="translate(66,2275) rotate(-90)" text-anchor="middle">cfDNA input (ng)</text>
<g font-size="18" text-anchor="middle" fill="#222">
<text x="212" y="2507">AMP cfDNA input</text><text x="386" y="2507">ddPCR cfDNA input</text>
</g>
<line x1="108" y1="2100" x2="108" y2="2480" stroke="#222" stroke-width="1.5"/>
<line x1="108" y1="2480" x2="490" y2="2480" stroke="#222" stroke-width="2"/>
<path stroke="#222" d="M104 2108H108M104 2202H108M104 2297H108M104 2391H108M212 2480v5M386 2480v5"/>
<rect x="168" y="2374" width="87" height="54.7" fill="#3a7dc2" stroke="#222" stroke-width="1.2"/>
<line x1="168" y1="2398" x2="255" y2="2398" stroke="#111" stroke-width="3"/>
<rect x="343" y="2357.9" width="86" height="56.2" fill="#ecbd2a" stroke="#222" stroke-width="1.2"/>
<line x1="343" y1="2394.7" x2="429" y2="2394.7" stroke="#111" stroke-width="3"/>
<path stroke="#111" stroke-width="1.6" fill="none" d="
M212 2266L386 2119.7M212 2289.5L386 2298M212 2327.3L386 2223.5M212 2334.4L386 2291.9M212 2347.1L386 2400.4M212 2365L386 2391M212 2369.7L386 2362.7M212 2374.5L386 2353.2M212 2376.8L386 2299M212 2381.5L386 2372.1M212 2383.9L386 2383.9M212 2386.2L386 2405.1M212 2395.7L386 2381.5M212 2398L386 2393.3M212 2400.4L386 2355.6M212 2414.5L386 2400.4M212 2416.9L386 2409.8M212 2419.3L386 2383.9M212 2424L386 2391M212 2426.3L386 2414.5M212 2428.7L386 2374.5M212 2433.4L386 2424M212 2438.1L386 2440.5M212 2442.8L386 2416.9M212 2447.6L386 2438.1M212 2452.3L386 2409.8M212 2457L386 2457M212 2461.7L386 2442.8M212 2466.4L386 2464.1
M212 2266V2466.4M386 2119.7V2464.1"/>
<g fill="#111">
<circle cx="212" cy="2266" r="2.8"/><circle cx="212" cy="2289.5" r="2.5"/><circle cx="212" cy="2327.3" r="2.5"/><circle cx="212" cy="2334.4" r="2.5"/><circle cx="212" cy="2347.1" r="2.5"/><circle cx="212" cy="2365" r="2.5"/><circle cx="212" cy="2400.4" r="2.5"/><circle cx="212" cy="2414.5" r="2.5"/><circle cx="212" cy="2428.7" r="2.5"/><circle cx="212" cy="2447.6" r="2.5"/><circle cx="212" cy="2466.4" r="2.5"/>
<circle cx="386" cy="2119.7" r="2.8"/><circle cx="386" cy="2223.5" r="2.8"/><circle cx="386" cy="2291.9" r="2.5"/><circle cx="386" cy="2298" r="2.5"/><circle cx="386" cy="2353.2" r="2.5"/><circle cx="386" cy="2383.9" r="2.5"/><circle cx="386" cy="2400.4" r="2.5"/><circle cx="386" cy="2424" r="2.5"/><circle cx="386" cy="2440.5" r="2.5"/><circle cx="386" cy="2464.1" r="2.5"/>
</g>

<!-- ===== j ===== -->
<text class="lt" x="650" y="2040">j</text>
<g font-size="14.5" fill="#111">
<text x="862" y="2088" text-anchor="middle">1 mutant drop = ddPCR ctDNA+ call</text>
<rect x="757" y="2108" width="77" height="28" fill="#d4d4d4"/><rect x="836" y="2108" width="100" height="28" fill="#d4d4d4"/>
<rect x="757" y="2137" width="77" height="28" fill="#f0f0f0"/><rect x="836" y="2137" width="100" height="28" fill="#f0f0f0"/>
<rect x="757" y="2166" width="77" height="27" fill="#e3e3e3"/><rect x="836" y="2166" width="100" height="27" fill="#e3e3e3"/>
<text x="795" y="2128" text-anchor="middle" font-weight="bold">AMP call</text><text x="886" y="2128" text-anchor="middle" font-weight="bold">No AMP call</text>
<text x="752" y="2157" text-anchor="end" font-style="italic">ddPCR neg</text><text x="795" y="2157" text-anchor="middle">3</text><text x="886" y="2157" text-anchor="middle">17</text>
<text x="752" y="2185" text-anchor="end" font-style="italic">ddPCR pos</text><text x="795" y="2185" text-anchor="middle">8</text><text x="886" y="2185" text-anchor="middle">2</text>
<text x="758" y="2225">PPA: 80%</text><text x="845" y="2223">Fisher's test P=0.001</text>
<text x="758" y="2245">NPA: 85%</text>
<text x="869" y="2294" text-anchor="middle">2 mutant drops = ddPCR ctDNA+ call</text>
<rect x="765" y="2306" width="77" height="27" fill="#d4d4d4"/><rect x="844" y="2306" width="100" height="27" fill="#d4d4d4"/>
<rect x="765" y="2334" width="77" height="28" fill="#f0f0f0"/><rect x="844" y="2334" width="100" height="28" fill="#f0f0f0"/>
<rect x="765" y="2363" width="77" height="27" fill="#e3e3e3"/><rect x="844" y="2363" width="100" height="27" fill="#e3e3e3"/>
<text x="803" y="2325" text-anchor="middle" font-weight="bold">AMP call</text><text x="894" y="2325" text-anchor="middle" font-weight="bold">No AMP call</text>
<text x="759" y="2354" text-anchor="end" font-style="italic">ddPCR neg</text><text x="803" y="2354" text-anchor="middle">6</text><text x="894" y="2354" text-anchor="middle">19</text>
<text x="759" y="2382" text-anchor="end" font-style="italic">ddPCR pos</text><text x="803" y="2382" text-anchor="middle">5</text><text x="894" y="2382" text-anchor="middle">0</text>
<text x="769" y="2419">PPA: 100%</text><text x="866" y="2419">Fisher’s test P=0.003</text>
<text x="769" y="2439">NPA: 76%</text>
</g>

<!-- ===== k ===== -->
<text class="lt" x="1138" y="2046">k</text>
<text x="1190" y="2044" font-size="16">10ng input</text>
<text x="1322" y="2044" font-size="16.5">Number mutations tracked</text>
<rect x="1551" y="2016" width="36" height="42" fill="#f0f0f0"/><rect x="1617" y="2016" width="39" height="42" fill="#f0f0f0"/><rect x="1694" y="2016" width="39" height="42" fill="#f0f0f0"/>
<line x1="1557" y1="2037" x2="1582" y2="2037" stroke="#f39b93" stroke-width="1.2"/><circle cx="1570" cy="2037" r="4" fill="#f39b93"/>
<line x1="1623" y1="2037" x2="1650" y2="2037" stroke="#3cb43c" stroke-width="1.2"/><circle cx="1638" cy="2037" r="4" fill="#3cb43c"/>
<line x1="1700" y1="2037" x2="1727" y2="2037" stroke="#7b9fd6" stroke-width="1.2"/><circle cx="1712" cy="2037" r="4" fill="#7b9fd6"/>
<g font-size="15"><text x="1594" y="2049">50</text><text x="1664" y="2049">100</text><text x="1740" y="2049">200</text></g>
<g class="tk" text-anchor="end" font-size="15" fill="#444">
<text x="1219" y="2082">1.00</text><text x="1219" y="2144">0.75</text><text x="1219" y="2206">0.50</text><text x="1219" y="2268">0.25</text><text x="1219" y="2330">0.00</text>
</g>
<g class="tk" text-anchor="end" font-size="15" fill="#444">
<text transform="translate(1252,2349) rotate(-90)">0</text>
<text transform="translate(1274,2349) rotate(-90)">0.005</text>
<text transform="translate(1295,2349) rotate(-90)">0.01</text>
<text transform="translate(1468,2349) rotate(-90)">0.05</text>
<text transform="translate(1684,2349) rotate(-90)">0.1</text>
</g>
<text x="1496" y="2409" font-size="15" text-anchor="middle">Spiked-in AF level (%)</text>
<text font-size="15" transform="translate(1179,2185) rotate(-90)" text-anchor="middle">Sensitivity</text>
<path stroke="#ececec" d="M1225 2077H1700M1225 2139H1700M1225 2201H1700M1225 2263H1700M1225 2325H1700"/>
<path stroke="#666" d="M1221 2077h4M1221 2139h4M1221 2201h4M1221 2263h4M1221 2325h4M1247 2336v6M1268.6 2336v6M1290.2 2336v6M1463 2336v6M1679 2336v6"/>
<polyline points="1268.6,2325 1272.1,2243.2 1290.2,2201 1376.6,2160.1 1463,2077" fill="none" stroke="#f39b93" stroke-width="1.1"/>
<polyline points="1259.1,2325 1268.6,2284.1 1272.1,2201 1290.2,2160.1 1376.6,2077" fill="none" stroke="#3cb43c" stroke-width="1.1"/>
<polyline points="1247,2325 1259.1,2284.1 1268.6,2243.2 1272.1,2119.2 1290.2,2077 1376.6,2077 1463,2077 1679,2077" fill="none" stroke="#7b9fd6" stroke-width="1.1"/>
<g fill="#f39b93"><circle cx="1268.6" cy="2325" r="3"/><circle cx="1272.1" cy="2243.2" r="3"/><circle cx="1290.2" cy="2201" r="3"/><circle cx="1376.6" cy="2160.1" r="3"/><circle cx="1463" cy="2077" r="3"/></g>
<g fill="#3cb43c"><circle cx="1259.1" cy="2325" r="3"/><circle cx="1268.6" cy="2284.1" r="3"/><circle cx="1272.1" cy="2201" r="3"/><circle cx="1290.2" cy="2160.1" r="3"/><circle cx="1376.6" cy="2077" r="3"/></g>
<g fill="#7b9fd6"><circle cx="1247" cy="2325" r="3"/><circle cx="1259.1" cy="2284.1" r="3"/><circle cx="1268.6" cy="2243.2" r="3"/><circle cx="1272.1" cy="2119.2" r="3"/><circle cx="1290.2" cy="2077" r="3"/><circle cx="1376.6" cy="2077" r="3"/><circle cx="1463" cy="2077" r="3"/><circle cx="1679" cy="2077" r="3"/></g>
</svg>
</body></html>
